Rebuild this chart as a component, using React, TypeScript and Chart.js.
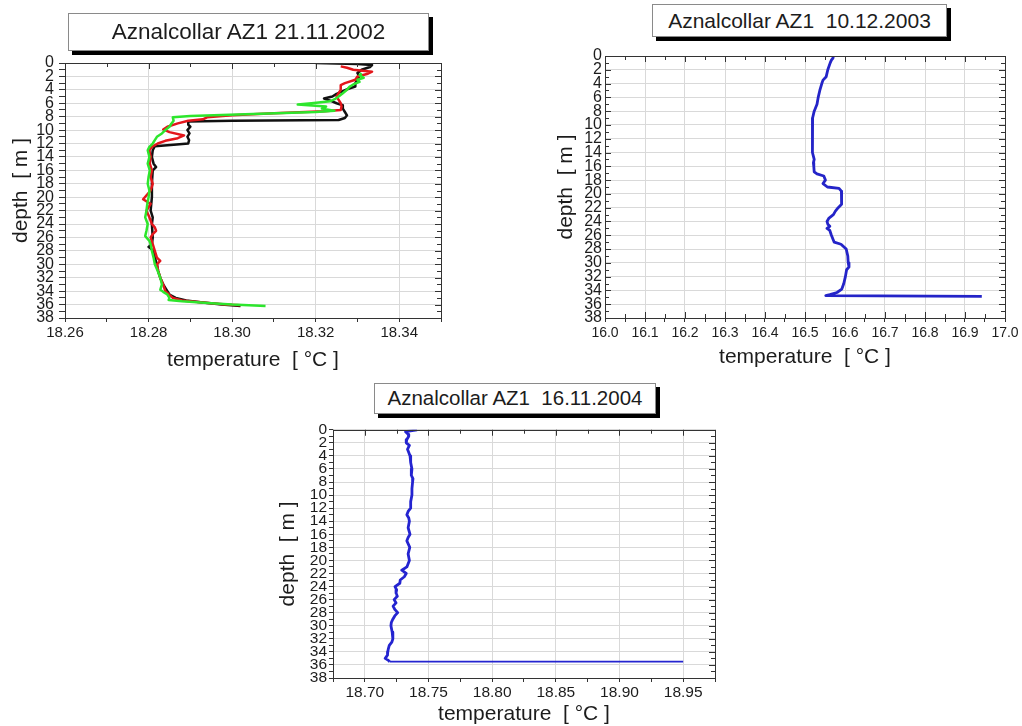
import React, { useEffect, useRef } from 'react';
import { Chart, registerables } from 'chart.js';

Chart.register(...registerables);

const FONT = "'Liberation Sans', Arial, Helvetica, sans-serif";

// ---------------- Panel 1: Aznalcollar AZ1 21.11.2002 ----------------
const p1Title = 'Aznalcollar AZ1 21.11.2002';
const p1TempTicks = [18.26, 18.28, 18.3, 18.32, 18.34];

const p1BlackDepth = [0, 0.15, 0.3, 0.6, 1, 1.5, 2, 2.5, 3, 3.5, 3.8, 4.2, 4.6, 5, 5.3, 5.6, 6, 6.3, 6.8, 7.3, 7.8, 8.2, 8.5, 8.6, 8.7, 9.2, 9.5, 10, 10.5, 11, 11.5, 12, 12.2, 12.4, 13, 14, 15, 15.5, 16, 18, 20, 22, 23, 24, 26, 27, 27.4, 28, 29, 30, 31, 32, 33, 34, 34.5, 35, 35.4, 35.7, 36, 36.2];
const p1BlackTemp = [18.32, 18.33, 18.3335, 18.333, 18.331, 18.33, 18.3305, 18.33, 18.3295, 18.3295, 18.328, 18.3265, 18.325, 18.324, 18.322, 18.3235, 18.325, 18.3265, 18.3265, 18.327, 18.3275, 18.327, 18.3255, 18.3, 18.2895, 18.2895, 18.29, 18.2893, 18.2898, 18.2893, 18.2897, 18.2895, 18.286, 18.2815, 18.281, 18.2808, 18.2812, 18.2818, 18.281, 18.2808, 18.2808, 18.2805, 18.281, 18.2808, 18.281, 18.2808, 18.28, 18.2812, 18.2815, 18.282, 18.2823, 18.2828, 18.2835, 18.2845, 18.285, 18.2865, 18.289, 18.293, 18.2975, 18.302];

const p1RedDepth = [0.5, 0.7, 1, 1.3, 1.6, 2, 2.5, 3, 3.3, 4, 4.5, 5, 5.5, 6, 6.5, 7, 7.2, 7.5, 7.8, 8.1, 8.4, 8.6, 9, 9.5, 9.9, 10.3, 10.8, 11.2, 11.6, 12, 12.5, 13, 14, 15, 16, 17, 18, 19, 20.3, 21, 22, 23, 24, 24.5, 25, 25.5, 26, 27, 28, 29, 29.5, 30, 31, 32, 33, 34, 35, 35.4, 35.7, 36, 36.1];
const p1RedTemp = [18.326, 18.3275, 18.329, 18.3335, 18.3325, 18.33, 18.3295, 18.327, 18.326, 18.326, 18.3255, 18.325, 18.3255, 18.326, 18.3262, 18.326, 18.322, 18.31, 18.3, 18.294, 18.293, 18.2895, 18.287, 18.2845, 18.2835, 18.285, 18.2885, 18.287, 18.284, 18.2822, 18.2808, 18.2802, 18.2805, 18.2803, 18.2808, 18.2805, 18.281, 18.2805, 18.2787, 18.2805, 18.2795, 18.2802, 18.2808, 18.2815, 18.2818, 18.281, 18.2805, 18.281, 18.2815, 18.282, 18.2828, 18.282, 18.2823, 18.2828, 18.2835, 18.284, 18.2858, 18.288, 18.293, 18.2985, 18.302];

const p1GreenDepth = [1.5, 1.8, 2.2, 2.5, 2.8, 3.2, 3.6, 4, 4.5, 5, 5.3, 5.7, 6, 6.2, 6.5, 6.8, 7.1, 7.3, 7.6, 7.9, 8.1, 8.6, 9, 9.5, 10, 10.5, 11, 11.5, 12, 12.5, 13, 14, 15, 16, 17, 18, 19, 20, 21, 22, 23, 24, 25, 25.8, 26.5, 27, 28, 29, 30, 31, 32, 33, 33.8, 34.1, 34.5, 35, 35.3, 35.5, 35.8, 36, 36.2];
const p1GreenTemp = [18.331, 18.3305, 18.3315, 18.33, 18.3305, 18.329, 18.328, 18.3275, 18.3265, 18.3255, 18.3248, 18.3235, 18.319, 18.3157, 18.3225, 18.3215, 18.3245, 18.32, 18.305, 18.29, 18.2858, 18.286, 18.2855, 18.285, 18.284, 18.2832, 18.282, 18.2815, 18.281, 18.2802, 18.2798, 18.2802, 18.2798, 18.2803, 18.28, 18.2798, 18.2802, 18.28, 18.2797, 18.2795, 18.2792, 18.2798, 18.2795, 18.2792, 18.2802, 18.2805, 18.2808, 18.2812, 18.2815, 18.2822, 18.2828, 18.2832, 18.2828, 18.2835, 18.2845, 18.285, 18.2848, 18.288, 18.295, 18.3, 18.308];

// ---------------- Panel 2: Aznalcollar AZ1 10.12.2003 ----------------
const p2Title = 'Aznalcollar AZ1  10.12.2003';
const p2TempTicks = [16.0, 16.1, 16.2, 16.3, 16.4, 16.5, 16.6, 16.7, 16.8, 16.9, 17.0];

const p2BlueDepth = [0, 0.3, 0.6, 1, 2, 3, 3.5, 4, 5, 6, 7, 8, 9, 10, 11, 12, 13, 14, 15, 15.5, 16, 16.8, 17.1, 17.4, 18, 18.5, 19, 19.2, 19.6, 20.5, 21.5, 22, 22.5, 23, 23.5, 24, 24.4, 24.7, 25, 25.3, 26, 27, 27.3, 28, 29, 30, 30.6, 31, 32, 33, 33.8, 34.3, 34.6, 34.75, 34.85];
const p2BlueTemp = [16.571, 16.57, 16.566, 16.563, 16.557, 16.553, 16.545, 16.542, 16.537, 16.533, 16.53, 16.523, 16.519, 16.518, 16.518, 16.518, 16.519, 16.52, 16.523, 16.521, 16.522, 16.523, 16.53, 16.547, 16.551, 16.545, 16.556, 16.585, 16.591, 16.592, 16.591, 16.583, 16.576, 16.571, 16.56, 16.555, 16.557, 16.562, 16.555, 16.562, 16.566, 16.573, 16.59, 16.603, 16.607, 16.608, 16.61, 16.604, 16.601, 16.597, 16.592, 16.58, 16.562, 16.552, 16.942];

// ---------------- Panel 3: Aznalcollar AZ1 16.11.2004 ----------------
const p3Title = 'Aznalcollar AZ1  16.11.2004';
const p3TempTicks = [18.7, 18.75, 18.8, 18.85, 18.9, 18.95];

const p3BlueDepth = [0, 0.3, 0.7, 1, 1.5, 2, 2.4, 3, 3.5, 4, 5, 6, 7, 7.5, 8, 9, 10, 11, 12, 12.5, 13, 13.5, 14, 15, 16, 16.5, 17, 18, 19, 20, 21, 21.5, 22, 22.5, 23, 23.5, 24, 24.5, 25, 25.5, 26, 26.5, 27, 27.5, 28, 28.5, 29, 29.5, 30, 31, 32, 32.5, 33, 33.5, 34, 34.5, 35, 35.3, 35.5, 35.5];
const p3BlueTemp = [18.741, 18.732, 18.734, 18.7345, 18.733, 18.7325, 18.735, 18.7335, 18.7345, 18.7355, 18.736, 18.737, 18.7365, 18.7378, 18.7375, 18.737, 18.737, 18.736, 18.736, 18.734, 18.733, 18.7345, 18.735, 18.734, 18.7355, 18.734, 18.733, 18.7353, 18.734, 18.735, 18.733, 18.729, 18.7325, 18.731, 18.7278, 18.7275, 18.7237, 18.725, 18.7245, 18.7255, 18.723, 18.7245, 18.7222, 18.7235, 18.7258, 18.7235, 18.722, 18.7208, 18.7205, 18.7215, 18.722, 18.7212, 18.7192, 18.7185, 18.718, 18.7178, 18.716, 18.7185, 18.7195, 18.95];

const depthTicks = [0, 2, 4, 6, 8, 10, 12, 14, 16, 18, 20, 22, 24, 26, 28, 30, 32, 34, 36, 38];

const X_TITLE = 'temperature  [ °C ]';
const Y_TITLE = 'depth  [ m ]';

const GRID = '#d9d9d9';
const FRAME = '#333333';
const TEXT = '#1c1c1c';

type Series = {
  label: string;
  depth: number[];
  temp: number[];
  color: string;
  width: number;
  lastWidth?: number;
};

type PanelCfg = {
  left: number;
  top: number;
  width: number;
  height: number;
  padTop: number;
  padRight: number;
  yAxisWidth: number;
  xAxisHeight: number;
  xMin: number;
  xMax: number;
  xStep: number;
  xLabels: number[];
  xDecimals: number;
  xFont: number;
  yFont: number;
  xTickLength: number;
  xTickPad: number;
  yTickLength: number;
  yTickPad: number;
  xTitlePad: number;
  yTitlePad: number;
  xTitleLineHeight: number;
  inwardAll: boolean;
  series: Series[];
};

const near = (v: number, list: number[]) => list.some((t) => Math.abs(t - v) < 1e-6);

const framePlugin = {
  id: 'frameTicks',
  afterDraw(chart: any, _args: any, opts: any) {
    const { ctx, chartArea, scales } = chart;
    const { left, top, right, bottom } = chartArea;
    const xs = scales.x;
    const ys = scales.y;
    const labels: number[] = opts.xLabels || [];
    const all = !!opts.inwardAll;
    ctx.save();
    ctx.strokeStyle = FRAME;
    ctx.lineWidth = 1;
    ctx.beginPath();
    xs.ticks.forEach((t: any) => {
      const px = Math.round(xs.getPixelForValue(t.value)) + 0.5;
      const len = near(t.value, labels) ? 6 : 4;
      ctx.moveTo(px, top);
      ctx.lineTo(px, top + len);
      if (all) {
        ctx.moveTo(px, bottom);
        ctx.lineTo(px, bottom - len);
      }
    });
    ys.ticks.forEach((t: any) => {
      const py = Math.round(ys.getPixelForValue(t.value)) + 0.5;
      const len = near(t.value, depthTicks) ? 6 : 4;
      ctx.moveTo(right, py);
      ctx.lineTo(right - len, py);
      if (all) {
        ctx.moveTo(left, py);
        ctx.lineTo(left + len, py);
      }
    });
    ctx.stroke();
    ctx.strokeRect(Math.round(left) + 0.5, Math.round(top) + 0.5, Math.round(right - left), Math.round(bottom - top));
    ctx.restore();
  },
};

function Panel({ cfg }: { cfg: PanelCfg }) {
  const ref = useRef<HTMLCanvasElement | null>(null);
  useEffect(() => {
    if (!ref.current) return;
    const chart = new Chart(ref.current, {
      type: 'scatter',
      data: {
        datasets: cfg.series.map((s) => ({
          label: s.label,
          data: s.depth.map((d, i) => ({ x: s.temp[i], y: d })),
          showLine: true,
          borderColor: s.color,
          backgroundColor: s.color,
          borderWidth: s.width,
          pointRadius: 0,
          pointHoverRadius: 0,
          tension: 0,
          borderJoinStyle: 'round',
          segment: s.lastWidth
            ? {
                borderWidth: (c: any) => (c.p1DataIndex === s.depth.length - 1 ? s.lastWidth : undefined),
              }
            : undefined,
        })) as any,
      },
      options: {
        responsive: false,
        animation: false,
        devicePixelRatio: 1,
        events: [],
        layout: { padding: { top: cfg.padTop, right: cfg.padRight, left: 0, bottom: 0 } },
        plugins: {
          legend: { display: false },
          tooltip: { enabled: false },
          frameTicks: { xLabels: cfg.xLabels, inwardAll: cfg.inwardAll },
        } as any,
        scales: {
          x: {
            type: 'linear',
            position: 'bottom',
            min: cfg.xMin,
            max: cfg.xMax,
            afterFit: (s: any) => {
              s.height = cfg.xAxisHeight;
            },
            ticks: {
              stepSize: cfg.xStep,
              precision: 4,
              autoSkip: false,
              maxRotation: 0,
              minRotation: 0,
              padding: cfg.xTickPad,
              color: TEXT,
              font: { family: FONT, size: cfg.xFont, lineHeight: 1.1 },
              callback: (v: any) => (near(Number(v), cfg.xLabels) ? Number(v).toFixed(cfg.xDecimals) : ''),
            },
            grid: {
              color: (c: any) => (c.tick && near(c.tick.value, cfg.xLabels) ? GRID : 'rgba(0,0,0,0)'),
              tickColor: FRAME,
              tickLength: cfg.xTickLength,
              drawTicks: cfg.xTickLength > 0,
              lineWidth: 1,
            },
            border: { display: false },
            title: {
              display: true,
              text: X_TITLE,
              color: TEXT,
              font: { family: FONT, size: 21, lineHeight: cfg.xTitleLineHeight },
              padding: { top: 0, bottom: cfg.xTitlePad },
            },
          },
          y: {
            type: 'linear',
            position: 'left',
            reverse: true,
            min: 0,
            max: 38,
            afterFit: (s: any) => {
              s.width = cfg.yAxisWidth;
            },
            ticks: {
              stepSize: 1,
              autoSkip: false,
              padding: cfg.yTickPad,
              color: TEXT,
              font: { family: FONT, size: cfg.yFont, lineHeight: 1.0 },
              callback: (v: any) => (near(Number(v), depthTicks) ? String(v) : ''),
            },
            grid: {
              color: (c: any) => (c.tick && near(c.tick.value, depthTicks) ? GRID : 'rgba(0,0,0,0)'),
              tickColor: FRAME,
              tickLength: cfg.yTickLength,
              drawTicks: cfg.yTickLength > 0,
              lineWidth: 1,
            },
            border: { display: false },
            title: {
              display: true,
              text: Y_TITLE,
              color: TEXT,
              font: { family: FONT, size: 21, lineHeight: 1.2 },
              padding: { top: cfg.yTitlePad, bottom: 0 },
            },
          },
        },
      } as any,
      plugins: [framePlugin as any],
    });
    return () => chart.destroy();
  }, [cfg]);
  return (
    <canvas
      ref={ref}
      width={cfg.width}
      height={cfg.height}
      style={{ position: 'absolute', left: cfg.left, top: cfg.top, width: cfg.width, height: cfg.height, display: 'block' }}
    />
  );
}

const panel1: PanelCfg = {
  left: 0, top: 50, width: 455, height: 330,
  padTop: 10, padRight: 14, yAxisWidth: 65, xAxisHeight: 62,
  xMin: 18.26, xMax: 18.35, xStep: 0.01, xLabels: p1TempTicks, xDecimals: 2,
  xFont: 15, yFont: 16,
  xTickLength: 4, xTickPad: 3, yTickLength: 6, yTickPad: 5,
  xTitlePad: 7, yTitlePad: 9, xTitleLineHeight: 1.2, inwardAll: false,
  series: [
    { label: 'green', depth: p1GreenDepth, temp: p1GreenTemp, color: '#2de62d', width: 2.5 },
    { label: 'red', depth: p1RedDepth, temp: p1RedTemp, color: '#e3161b', width: 2.5 },
    { label: 'black', depth: p1BlackDepth, temp: p1BlackTemp, color: '#111111', width: 2.5 },
  ],
};

const panel2: PanelCfg = {
  left: 540, top: 45, width: 482, height: 330,
  padTop: 8, padRight: 17, yAxisWidth: 65, xAxisHeight: 57,
  xMin: 16.0, xMax: 17.0, xStep: 0.05, xLabels: p2TempTicks, xDecimals: 1,
  xFont: 14, yFont: 16,
  xTickLength: 4, xTickPad: 3, yTickLength: 0, yTickPad: 3,
  xTitlePad: 5, yTitlePad: 14, xTitleLineHeight: 1.2, inwardAll: true,
  series: [{ label: 'blue', depth: p2BlueDepth, temp: p2BlueTemp, color: '#2424c8', width: 2.8 }],
};

const panel3: PanelCfg = {
  left: 270, top: 420, width: 460, height: 306,
  padTop: 9, padRight: 15, yAxisWidth: 63, xAxisHeight: 48,
  xMin: 18.675, xMax: 18.975, xStep: 0.025, xLabels: p3TempTicks, xDecimals: 2,
  xFont: 15.5, yFont: 15.5,
  xTickLength: 4, xTickPad: 2, yTickLength: 4, yTickPad: 2,
  xTitlePad: 1, yTitlePad: 6, xTitleLineHeight: 1.0, inwardAll: false,
  series: [{ label: 'blue', depth: p3BlueDepth, temp: p3BlueTemp, color: '#2424d0', width: 2.8, lastWidth: 1.8 }],
};

function TitleBox({ text, left, top, width, height, size }: { text: string; left: number; top: number; width: number; height: number; size: number }) {
  return (
    <div
      style={{
        position: 'absolute',
        left,
        top,
        width,
        height,
        boxSizing: 'border-box',
        border: '1px solid #8a8a8a',
        background: '#ffffff',
        boxShadow: '4px 4px 0 #000000',
        fontFamily: FONT,
        fontSize: size,
        color: TEXT,
        whiteSpace: 'pre',
        display: 'flex',
        alignItems: 'center',
        justifyContent: 'center',
        lineHeight: 1,
      }}
    >
      {text}
    </div>
  );
}

export default function App() {
  return (
    <div style={{ position: 'fixed', left: 0, top: 0, width: 1022, height: 726, background: '#ffffff', overflow: 'hidden' }}>
      <Panel cfg={panel1} />
      <Panel cfg={panel2} />
      <Panel cfg={panel3} />
      <TitleBox text={p1Title} left={68} top={13} width={361} height={38} size={22.5} />
      <TitleBox text={p2Title} left={652} top={4} width={295} height={33} size={21} />
      <TitleBox text={p3Title} left={374} top={383} width={282} height={31} size={20.5} />
    </div>
  );
}
